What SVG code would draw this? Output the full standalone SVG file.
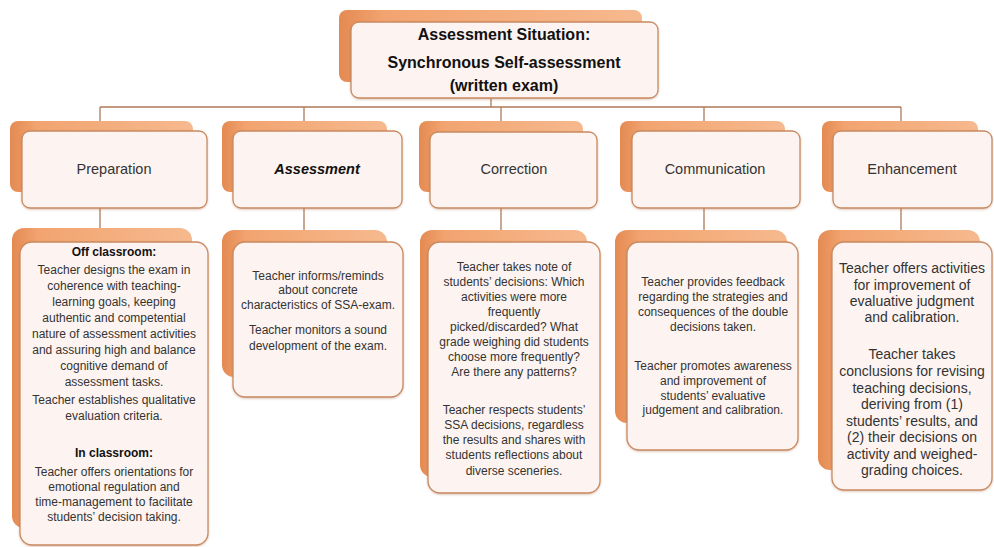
<svg xmlns="http://www.w3.org/2000/svg" width="994" height="547" viewBox="0 0 994 547">
<style>
.back{fill:url(#og);}
.front{fill:#fdf3f0;stroke:#c98a60;stroke-width:1.3;}
.conn{stroke:#b07a58;stroke-width:1.3;fill:none;}
text{font-family:"Liberation Sans",Arial,sans-serif;fill:#333;text-anchor:middle;}
.top{font-size:16px;font-weight:bold;fill:#111;}
.hd{font-size:14.5px;}
.bd{font-size:12px;}
.bb{font-size:12px;font-weight:bold;fill:#111;}
.en{font-size:14px;}
</style>
<defs>
<linearGradient id="og" x1="0" y1="0" x2="1" y2="0">
<stop offset="0" stop-color="#e48a52"/>
<stop offset="0.15" stop-color="#f2a470"/>
<stop offset="1" stop-color="#f6b98e"/>
</linearGradient>
<filter id="sh" x="-10%" y="-10%" width="120%" height="120%">
<feDropShadow dx="0" dy="1" stdDeviation="1.2" flood-color="#a06040" flood-opacity="0.35"/>
</filter>
</defs>
<rect width="994" height="547" fill="#ffffff"/>

<g id="connectors">
<path class="conn" d="M491 98V107M100 107H901M100 107V131M304 107V131M501 107V132M704 107V131M901 107V131"/>
<path class="conn" d="M100 208V242M304 208V242M501 208V242M704 208V242M901 208V242"/>
</g>

<g id="top">
<rect class="back" x="339" y="10" width="303" height="72" rx="8"/>
<rect class="front" x="351" y="22" width="307" height="76" rx="8" filter="url(#sh)"/>
<text class="top" x="504" y="40">Assessment Situation:</text>
<text class="top" x="504" y="68">Synchronous Self-assessment</text>
<text class="top" x="504" y="91">(written exam)</text>
</g>

<g id="h-preparation">
<rect class="back" x="10" y="121" width="183" height="71" rx="8"/>
<rect class="front" x="22" y="131" width="185" height="77" rx="8" filter="url(#sh)"/>
<text class="hd" x="114" y="174">Preparation</text>
</g>
<g id="h-assessment">
<rect class="back" x="222" y="121" width="165" height="71" rx="8"/>
<rect class="front" x="233" y="131" width="169" height="77" rx="8" filter="url(#sh)"/>
<text class="hd" x="317" y="174" font-weight="bold" font-style="italic" style="fill:#111">Assessment</text>
</g>
<g id="h-correction">
<rect class="back" x="419" y="121" width="164" height="71" rx="8"/>
<rect class="front" x="430" y="132" width="167" height="76" rx="8" filter="url(#sh)"/>
<text class="hd" x="514" y="174">Correction</text>
</g>
<g id="h-communication">
<rect class="back" x="620" y="121" width="165" height="71" rx="8"/>
<rect class="front" x="632" y="131" width="168" height="77" rx="8" filter="url(#sh)"/>
<text class="hd" x="715" y="174">Communication</text>
</g>
<g id="h-enhancement">
<rect class="back" x="822" y="121" width="156" height="71" rx="8"/>
<rect class="front" x="833" y="131" width="159" height="77" rx="8" filter="url(#sh)"/>
<text class="hd" x="912" y="174">Enhancement</text>
</g>

<g id="b-preparation">
<rect class="back" x="12" y="228" width="180" height="300" rx="12"/>
<rect class="front" x="20" y="242" width="188" height="303" rx="12" filter="url(#sh)"/>
<text class="bb" x="114" y="256">Off classroom:</text>
<text class="bd" x="114" y="274">Teacher designs the exam in</text>
<text class="bd" x="114" y="290">coherence with teaching-</text>
<text class="bd" x="114" y="306">learning goals, keeping</text>
<text class="bd" x="114" y="322">authentic and competential</text>
<text class="bd" x="114" y="338">nature of assessment activities</text>
<text class="bd" x="114" y="354">and assuring high and balance</text>
<text class="bd" x="114" y="370">cognitive demand of</text>
<text class="bd" x="114" y="386">assessment tasks.</text>
<text class="bd" x="114" y="404">Teacher establishes qualitative</text>
<text class="bd" x="114" y="420">evaluation criteria.</text>
<text class="bb" x="114" y="457">In classroom:</text>
<text class="bd" x="114" y="476">Teacher offers orientations for</text>
<text class="bd" x="114" y="491">emotional regulation and</text>
<text class="bd" x="114" y="506">time-management  to facilitate</text>
<text class="bd" x="114" y="521">students’ decision taking.</text>
</g>

<g id="b-assessment">
<rect class="back" x="222" y="230" width="165" height="147" rx="12"/>
<rect class="front" x="233" y="242" width="170" height="155" rx="12" filter="url(#sh)"/>
<text class="bd" x="318" y="280">Teacher informs/reminds</text>
<text class="bd" x="318" y="294">about concrete</text>
<text class="bd" x="318" y="309">characteristics of SSA-exam.</text>
<text class="bd" x="318" y="334">Teacher monitors a sound</text>
<text class="bd" x="318" y="350">development  of the exam.</text>
</g>

<g id="b-correction">
<rect class="back" x="420" y="230" width="167" height="247" rx="12"/>
<rect class="front" x="428" y="242" width="172" height="251" rx="12" filter="url(#sh)"/>
<text class="bd" x="514" y="271">Teacher takes note of</text>
<text class="bd" x="514" y="286">students’ decisions: Which</text>
<text class="bd" x="514" y="301">activities were more</text>
<text class="bd" x="514" y="316">frequently</text>
<text class="bd" x="514" y="331">picked/discarded? What</text>
<text class="bd" x="514" y="346">grade weighing did students</text>
<text class="bd" x="514" y="361">choose more frequently?</text>
<text class="bd" x="514" y="376">Are there any patterns?</text>
<text class="bd" x="514" y="414">Teacher respects students’</text>
<text class="bd" x="514" y="429">SSA decisions, regardless</text>
<text class="bd" x="514" y="444">the results and shares with</text>
<text class="bd" x="514" y="459">students reflections about</text>
<text class="bd" x="514" y="475">diverse sceneries.</text>
</g>

<g id="b-communication">
<rect class="back" x="615" y="230" width="172" height="193" rx="12"/>
<rect class="front" x="627" y="242" width="171" height="208" rx="12" filter="url(#sh)"/>
<text class="bd" x="713" y="286">Teacher provides feedback</text>
<text class="bd" x="713" y="301">regarding the strategies and</text>
<text class="bd" x="713" y="316">consequences of the double</text>
<text class="bd" x="713" y="331">decisions taken.</text>
<text class="bd" x="713" y="370">Teacher promotes  awareness</text>
<text class="bd" x="713" y="385">and improvement  of</text>
<text class="bd" x="713" y="400">students’ evaluative</text>
<text class="bd" x="713" y="414">judgement  and calibration.</text>
</g>

<g id="b-enhancement">
<rect class="back" x="818" y="230" width="162" height="240" rx="12"/>
<rect class="front" x="832" y="242" width="160" height="248" rx="12" filter="url(#sh)"/>
<text class="en" x="912" y="273">Teacher offers activities</text>
<text class="en" x="912" y="290">for improvement of</text>
<text class="en" x="912" y="306">evaluative judgment</text>
<text class="en" x="912" y="322">and calibration.</text>
<text class="en" x="912" y="359">Teacher takes</text>
<text class="en" x="912" y="376">conclusions for revising</text>
<text class="en" x="912" y="393">teaching decisions,</text>
<text class="en" x="912" y="409">deriving from (1)</text>
<text class="en" x="912" y="426">students’ results, and</text>
<text class="en" x="912" y="442">(2) their decisions on</text>
<text class="en" x="912" y="459">activity and weighed-</text>
<text class="en" x="912" y="475">grading choices.</text>
</g>
</svg>
